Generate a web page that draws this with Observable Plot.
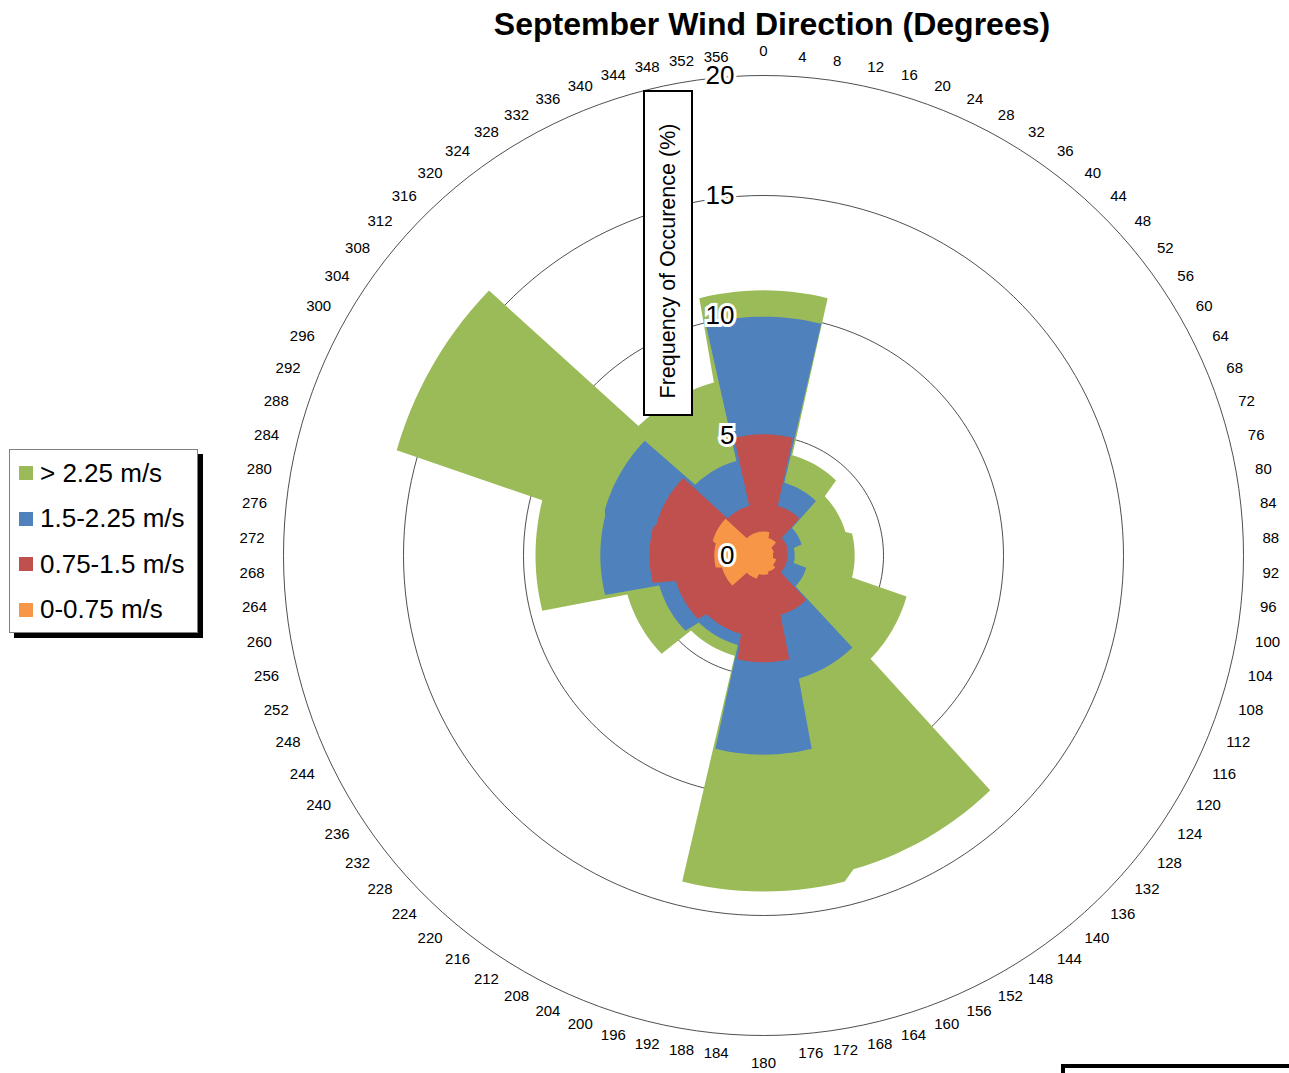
<!DOCTYPE html>
<html>
<head>
<meta charset="utf-8">
<script src="https://cdn.jsdelivr.net/npm/d3@7"></script>
<script src="https://cdn.jsdelivr.net/npm/@observablehq/plot@0.6"></script>
<style>
  html, body { margin: 0; padding: 0; background: #fff; }
  body { font-family: "Liberation Sans", Arial, sans-serif; }
  #wrap { position: relative; width: 1289px; height: 1073px; overflow: hidden; }
  #chart { position: absolute; left: 0; top: 0; }
  #title { position: absolute; left: 372px; width: 800px; top: 10px; text-align: center;
           font-size: 32px; font-weight: bold; line-height: 29px; height: 29px; color: #000; }
  #legend { position: absolute; left: 9px; top: 449px; width: 187px; height: 182px;
            border: 1px solid #808080; background: #fff; box-shadow: 5px 5px 0 #000; }
  .item { position: absolute; left: 9px; height: 30px; display: flex; align-items: center;
          font-size: 26px; color: #000; white-space: nowrap; }
  .sw { width: 14px; height: 14px; margin-right: 7px; }
  #ytitle { position: absolute; left: 643px; top: 90px; width: 46px; height: 322px;
            border: 2px solid #000; background: #fff; }
  #ytitle span { position: absolute; left: 50%; top: 169px; transform: translate(-50%, -50%) rotate(-90deg);
                 white-space: nowrap; font-size: 21.5px; line-height: 24px; color: #000; }
  #frag { position: absolute; left: 1061px; top: 1064px; width: 300px; height: 40px;
          border-top: 4px solid #000; border-left: 4px solid #000; }
</style>
</head>
<body>
<div id="wrap">
  <div id="chart"></div>
  <div id="title">September Wind Direction (Degrees)</div>
  <div id="ytitle"><span>Frequency of Occurence (%)</span></div>
  <div id="legend"></div>
  <div id="frag"></div>
</div>
<script>
// ---- data -------------------------------------------------------------
// wind-direction sectors (degrees, sector centres, 30° wide)
const sectors = [0, 30, 60, 90, 120, 150, 180, 210, 240, 270, 300, 330];
// frequency of occurrence (%) by speed class and sector
const speed0to075   = [1.00, 0.75, 0.45, 0.40, 0.55, 0.70, 0.80, 1.00, 1.80, 2.05, 2.20, 1.00];
const speed075to15  = [4.05, 1.40, 0.60, 0.60, 0.45, 1.87, 3.65, 2.40, 2.00, 2.70, 2.45, 1.15];
const speed15to225  = [4.90, 1.00, 0.60, 0.30, 0.85, 2.76, 3.85, 0.48, 0.72, 2.05, 2.23, 1.95];
const speedAbove225 = [1.10, 1.20, 1.90, 2.50, 4.35, 8.27, 5.70, 0.47, 1.38, 2.70, 9.02, 3.40];
const seriesNames = ["0-0.75 m/s", "0.75-1.5 m/s", "1.5-2.25 m/s", "> 2.25 m/s"];
const seriesColors = ["#F79646", "#C0504D", "#4F81BD", "#9BBB59"];
// radial axis tick values
const radialTicks = [0, 5, 10, 15, 20];
// category axis (radar categories every 2°) and its labels (every 4°)
const categories = d3.range(0, 360, 2);
const angleLabels = [0,4,8,12,16,20,24,28,32,36,40,44,48,52,56,60,64,68,72,76,80,84,88,92,96,100,
  104,108,112,116,120,124,128,132,136,140,144,148,152,156,160,164,168,172,176,180,184,188,192,196,
  200,204,208,212,216,220,224,228,232,236,240,244,248,252,256,260,264,268,272,276,280,284,288,292,
  296,300,304,308,312,316,320,324,328,332,336,340,344,348,352,356];

// ---- build ------------------------------------------------------------
const bins = [speed0to075, speed075to15, speed15to225, speedAbove225];
const cumulative = bins.map((_, k) => sectors.map((s, i) => d3.sum(bins.slice(0, k + 1), b => b[i])));
const rad = a => a * Math.PI / 180;
const sectorOf = a => Math.round(a / 30) % sectors.length;
const polygon = vals => categories.map(a => ({x: vals[sectorOf(a)] * Math.sin(rad(a)), y: vals[sectorOf(a)] * Math.cos(rad(a))}));
const ring = v => categories.map(a => ({x: v * Math.sin(rad(a)), y: v * Math.cos(rad(a))}));

const pxPerUnit = 24;             // layout: 24 px per percent
const W = 1289, H = 1073, CX = 763, CY = 555;
const labelR = 20 + 0.8;          // label radius just outside the outer ring
const labelPts = angleLabels.map(a => ({a, x: labelR * Math.sin(rad(a)), y: labelR * Math.cos(rad(a))}));

const marks = [];
radialTicks.filter(v => v > 0).forEach(v => {
  marks.push(Plot.line(ring(v), {x: "x", y: "y", curve: "linear-closed", stroke: "#222", strokeWidth: 0.8}));
});
for (let k = 3; k >= 0; k--) {
  marks.push(Plot.line(polygon(cumulative[k]), {x: "x", y: "y", curve: "linear-closed", fill: seriesColors[k], stroke: "none"}));
}
marks.push(Plot.text(radialTicks, {x: d => 0, y: d => d, text: d => String(d), textAnchor: "end", dx: -29,
  fontSize: 26, fill: "#000", stroke: "#fff", strokeWidth: 6, strokeLinejoin: "miter"}));
const lblStyle = {x: "x", y: "y", text: d => String(d.a), fontSize: 15, fill: "#000"};
marks.push(Plot.text(labelPts.filter(d => d.a > 0 && d.a < 180), {...lblStyle, textAnchor: "start"}));
marks.push(Plot.text(labelPts.filter(d => d.a > 180), {...lblStyle, textAnchor: "end"}));
marks.push(Plot.text(labelPts.filter(d => d.a === 0), {...lblStyle, textAnchor: "middle", dy: -5}));
marks.push(Plot.text(labelPts.filter(d => d.a === 180), {...lblStyle, textAnchor: "middle", dy: 8}));

const chart = Plot.plot({
  width: W, height: H, margin: 0,
  x: {domain: [-CX / pxPerUnit, (W - CX) / pxPerUnit], axis: null},
  y: {domain: [-(H - CY) / pxPerUnit, CY / pxPerUnit], axis: null},
  style: {fontFamily: '"Liberation Sans", Arial, sans-serif', background: "transparent", overflow: "visible"},
  marks
});
document.getElementById("chart").appendChild(chart);

// legend (top to bottom: highest speed first)
const legend = document.getElementById("legend");
[3, 2, 1, 0].forEach((k, i) => {
  const it = document.createElement("div");
  it.className = "item";
  it.style.top = (8 + i * 45.5) + "px";
  it.innerHTML = `<span class="sw" style="background:${seriesColors[k]}"></span><span>${seriesNames[k]}</span>`;
  legend.appendChild(it);
});
</script>
</body>
</html>
